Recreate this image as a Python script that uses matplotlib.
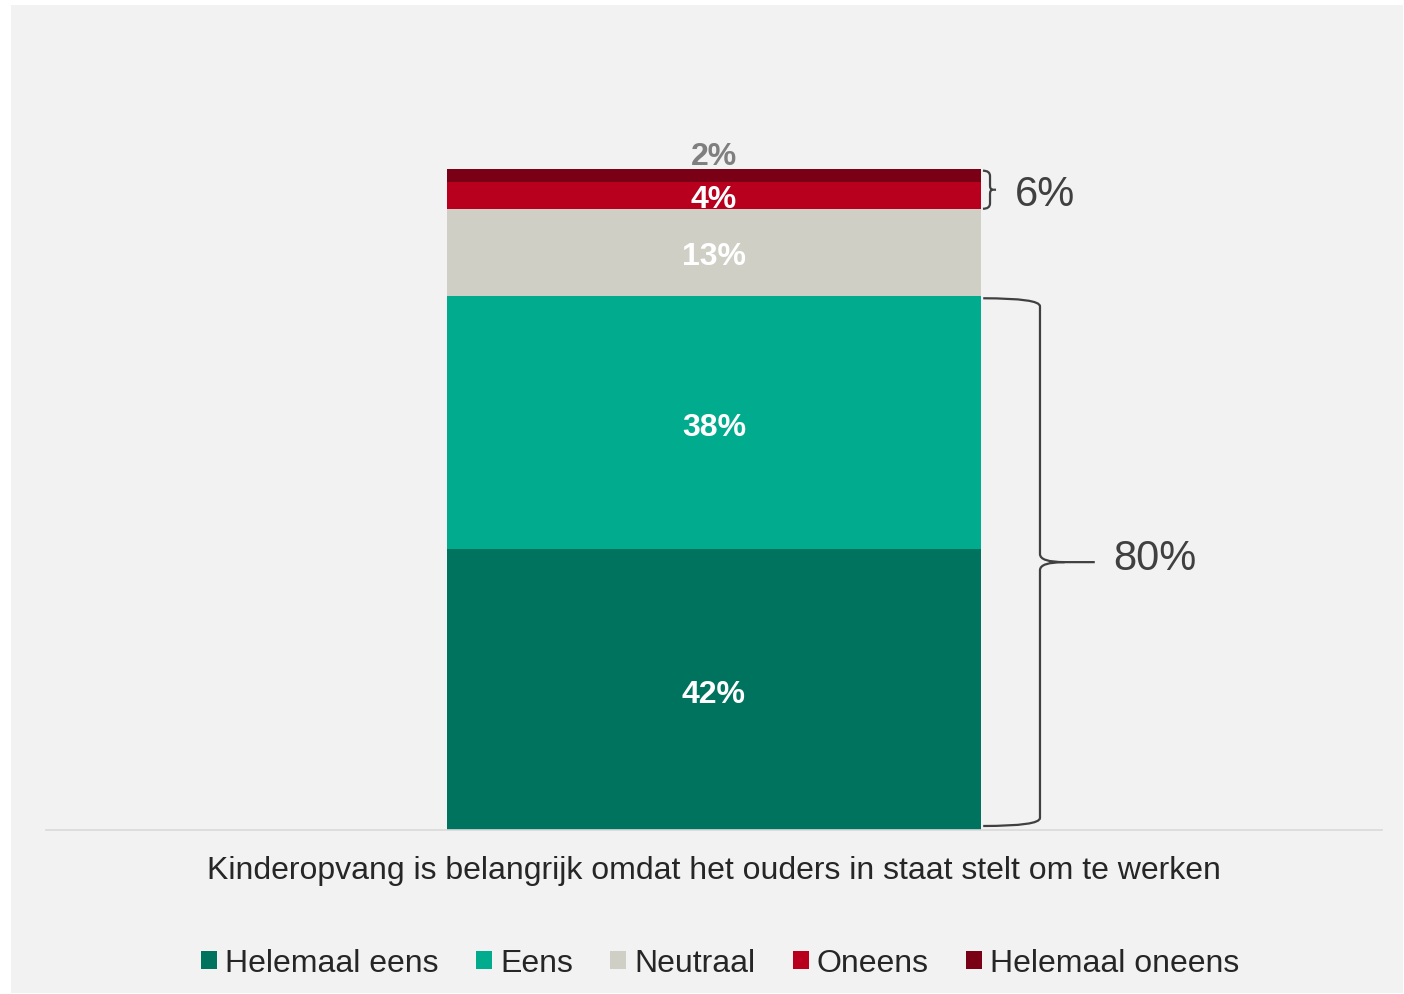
#!/usr/bin/env python3
import matplotlib
matplotlib.use("Agg")
import matplotlib.pyplot as plt
from matplotlib.path import Path
from matplotlib.patches import PathPatch, Rectangle

plt.rcParams["font.family"] = ["Liberation Sans", "DejaVu Sans"]

# data
categories = ["Helemaal eens", "Eens", "Neutraal", "Oneens", "Helemaal oneens"]
values = [42, 38, 13, 4, 2]
colors = ["#00735F", "#00AB8E", "#CFCFC6", "#B8001E", "#7A0016"]
question = "Kinderopvang is belangrijk omdat het ouders in staat stelt om te werken"
agree_total = 80
disagree_total = 6

fig = plt.figure(figsize=(14.04, 9.95), dpi=100, facecolor="white")
# light grey panel behind everything
fig.patches.append(Rectangle((11 / 1404, 1 - 994 / 995), 1392 / 1404, 988 / 995,
                             transform=fig.transFigure, facecolor="#F2F2F2",
                             edgecolor="none", zorder=-10))

ax = fig.add_axes([46 / 1404, 1 - 831 / 995, 1336 / 1404, 801 / 995])
ax.set_facecolor("none")

bottom = 0
for cat, val, col in zip(categories, values, colors):
    ax.bar(0, val, 0.4, bottom=bottom, color=col, label=cat, zorder=2)
    if cat == "Helemaal oneens":
        ax.annotate("%d%%" % val, (0, bottom + val), xytext=(0, 3.5),
                    textcoords="offset points", ha="center", va="baseline",
                    fontsize=23, fontweight="bold", color="#7F7F7F")
    else:
        ax.text(0, bottom + val / 2 - 0.6, "%d%%" % val, ha="center", va="center",
                fontsize=23, fontweight="bold", color="white", zorder=3)
    bottom += val

ax.set_xlim(-0.5, 0.5)
ax.set_ylim(0, 801 / 6.68)


def brace(ax, x0, xv, xt, y0, y1, r, rm):
    ym = (y0 + y1) / 2
    xh = xv + (xt - xv) * 0.45
    verts = [(x0, y1), (xv, y1), (xv, y1 - r),
             (xv, ym + rm),
             (xv, ym), (xh, ym),
             (xt, ym),
             (xh, ym),
             (xv, ym), (xv, ym - rm),
             (xv, y0 + r),
             (xv, y0), (x0, y0)]
    codes = [Path.MOVETO, Path.CURVE3, Path.CURVE3,
             Path.LINETO,
             Path.CURVE3, Path.CURVE3,
             Path.LINETO,
             Path.MOVETO,
             Path.CURVE3, Path.CURVE3,
             Path.LINETO,
             Path.CURVE3, Path.CURVE3]
    ax.add_patch(PathPatch(Path(verts, codes), facecolor="none",
                           edgecolor="#404040", lw=1.6, zorder=3))


agree_top = values[0] + values[1]
brace(ax, 0.2015, 0.244, 0.285, 0.6, agree_top - 0.4, 1.2, 1.2)
ax.text(0.2985, agree_top / 2 + 0.75, "%d%%" % agree_total, ha="left", va="center",
        fontsize=30, color="#404040")

dis_bottom = sum(values[:3])
brace(ax, 0.2013, 0.2066, 0.2111, dis_bottom, dis_bottom + 5.7, 0.8, 0.6)
ax.text(0.2253, dis_bottom + 2.25, "%d%%" % disagree_total, ha="left",
        va="center", fontsize=30, color="#404040")

for s in ["top", "left", "right"]:
    ax.spines[s].set_visible(False)
ax.spines["bottom"].set_color("#D9D9D9")
ax.spines["bottom"].set_linewidth(1.2)
ax.set_yticks([])
ax.set_xticks([0])
ax.set_xticklabels([question], fontsize=23, color="#262626")
ax.tick_params(axis="x", length=0, pad=18)

fig.legend(loc="center", bbox_to_anchor=(0.513, 1 - 964 / 995), ncol=5,
           frameon=False, fontsize=23, handlelength=0.5, handleheight=0.5,
           handletextpad=0.25, columnspacing=1.17, labelcolor="#262626")

fig.savefig("out.png", dpi=100, facecolor="white")
